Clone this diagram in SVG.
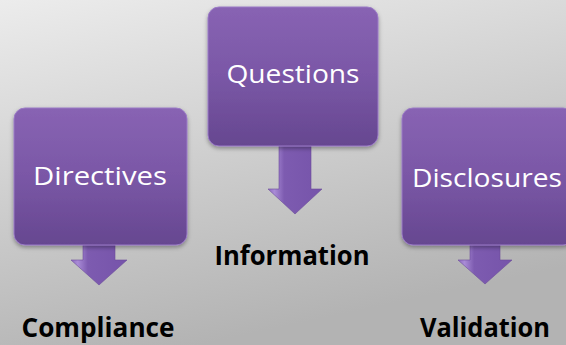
<svg xmlns="http://www.w3.org/2000/svg" width="566" height="345" viewBox="0 0 566 345">
<defs>
<linearGradient id="bg" x1="0" y1="0" x2="0.35" y2="1">
<stop offset="0" stop-color="#ececec"/>
<stop offset="1" stop-color="#b3b3b3"/>
</linearGradient>
<linearGradient id="box" x1="0" y1="0" x2="0" y2="1">
<stop offset="0" stop-color="#8863b3"/>
<stop offset="0.5" stop-color="#7a57a6"/>
<stop offset="1" stop-color="#664790"/>
</linearGradient>
<linearGradient id="arr" x1="0" y1="0" x2="1" y2="0">
<stop offset="0" stop-color="#8e6bc0"/>
<stop offset="0.12" stop-color="#a98bd6"/>
<stop offset="0.3" stop-color="#7d5bb0"/>
<stop offset="1" stop-color="#7654aa"/>
</linearGradient>
<filter id="sh" x="-10%" y="-10%" width="120%" height="125%">
<feDropShadow dx="0" dy="2" stdDeviation="2" flood-color="#000" flood-opacity="0.35"/>
</filter>
</defs>
<style>
.box{fill:url(#box);stroke:#9a7ac6;stroke-width:1;filter:url(#sh)}
.arrow{fill:url(#arr);stroke:#6c4c9a;stroke-width:0.6}
.lbl{font-family:"Open Sans","Liberation Sans",sans-serif;font-size:26px;fill:#ffffff;text-anchor:middle}
.out{font-family:"Open Sans","Liberation Sans",sans-serif;font-size:26px;font-weight:bold;fill:#000000;text-anchor:middle}
</style>
<rect x="0" y="0" width="566" height="345" fill="url(#bg)"/>
<g id="connectors">
<path class="arrow" d="M83,245 H115 V260 H127 L99,285 L71,260 H83 Z"/>
<path class="arrow" d="M279,146 H311 V189 H322 L295,214 L268,189 H279 Z"/>
<path class="arrow" d="M470,245 H500 V260 H512 L485,284 L458,260 H470 Z"/>
</g>
<g id="directives">
<rect class="box" x="14" y="108" width="173" height="137" rx="11"/>
<text class="lbl" x="100" y="185" textLength="134" lengthAdjust="spacingAndGlyphs">Directives</text>
</g>
<g id="questions">
<rect class="box" x="208" y="7" width="170" height="139" rx="11"/>
<text class="lbl" x="293" y="83" textLength="133" lengthAdjust="spacingAndGlyphs">Questions</text>
</g>
<g id="disclosures">
<rect class="box" x="402" y="108" width="172" height="137" rx="11"/>
<text class="lbl" x="487" y="187" textLength="150" lengthAdjust="spacingAndGlyphs">Disclosures</text>
</g>
<g id="compliance">
<text class="out" x="98" y="337" textLength="153" lengthAdjust="spacingAndGlyphs">Compliance</text>
</g>
<g id="information">
<text class="out" x="292" y="265" textLength="155" lengthAdjust="spacingAndGlyphs">Information</text>
</g>
<g id="validation">
<text class="out" x="485" y="337" textLength="130" lengthAdjust="spacingAndGlyphs">Validation</text>
</g>
</svg>
